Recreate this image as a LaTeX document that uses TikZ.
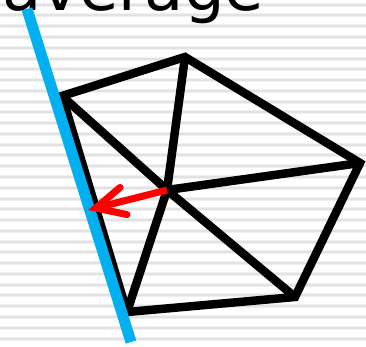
\documentclass[tikz,border=0pt]{standalone}
\usepackage{fontspec}
\setmainfont{DejaVu Sans}
\usetikzlibrary{arrows.meta}
\definecolor{stripe}{RGB}{226,226,226}
\definecolor{stripeedge}{RGB}{240,240,240}
\definecolor{skyblue}{RGB}{0,176,240}
\tikzset{
  stripeline/.style={draw=stripe, line width=2pt},
  stripehalo/.style={draw=stripeedge, line width=4pt},
  edge/.style={draw=black, line width=8.5pt, line join=miter, miter limit=10},
  bluel/.style={draw=skyblue, line width=11pt},
  redarrow/.style={draw=red, line width=7pt, -{Straight Barb[angle=52:32pt, line cap=round]}}
}
\begin{document}
\begin{tikzpicture}[x=1pt,y=-1pt]
\clip (0,0) rectangle (366,346);
\fill[white] (0,0) rectangle (366,346);
\foreach \k in {0,...,31}{
  \draw[stripehalo] (0,{4.7+10.77*\k}) -- (366,{4.7+10.77*\k});
  \draw[stripeline] (0,{4.7+10.77*\k}) -- (366,{4.7+10.77*\k});
}
\node[anchor=base west, inner sep=0pt, font=\fontsize{64pt}{64pt}\selectfont] (title) at (2,10) {average};
\coordinate (v1) at (62,96);
\coordinate (v2) at (185,57);
\coordinate (v3) at (360,163);
\coordinate (v4) at (295,297);
\coordinate (v5) at (127,312);
\coordinate (c) at (167,190);
\coordinate (btop) at (27,9);
\coordinate (bbot) at (131,342);
\coordinate (tip) at (88,210);
\draw[edge] (v1) -- (v2) -- (v3) -- (v4) -- (v5) -- cycle;
\foreach \v in {v1,v2,v3,v4,v5}{ \draw[edge] (c) -- (\v); }
\draw[bluel] (btop) -- (bbot);
\draw[redarrow] (c) -- (tip);
\end{tikzpicture}
\end{document}
